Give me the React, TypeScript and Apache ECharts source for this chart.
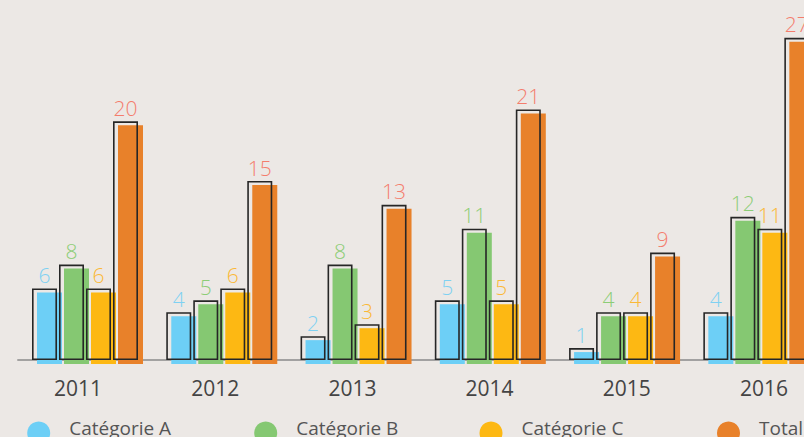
import React, { useEffect, useRef } from "react";
import * as echarts from "echarts";

const years = ["2011", "2012", "2013", "2014", "2015", "2016"];
const seriesNames = ["Catégorie A", "Catégorie B", "Catégorie C", "Total"];
const catA = [6, 4, 2, 5, 1, 4];
const catB = [8, 5, 8, 11, 4, 12];
const catC = [6, 6, 3, 5, 4, 11];
const total = [20, 15, 13, 21, 9, 27];

const barColors = ["#6dcff6", "#85c872", "#fdb813", "#e8812a"];
const labelColors = ["#7fd1f2", "#8ccd76", "#fbb836", "#f47d6d"];
const FONT = "'Open Sans', 'Noto Sans', sans-serif";

export default function App() {
  const ref = useRef<HTMLDivElement>(null);
  useEffect(() => {
    document.body.style.margin = "0";
    const chart = echarts.init(ref.current!, null, { renderer: "svg" });
    const values = [catA, catB, catC, total];
    const gridW = 805.6;
    const gridH = 358;
    const fills = values.map((v, i) => ({
      name: seriesNames[i],
      type: "bar",
      xAxisIndex: 1,
      yAxisIndex: 1,
      data: v,
      barWidth: 25,
      barGap: "8%",
      itemStyle: { color: barColors[i] },
      z: 2,
    }));
    const outlines = values.map((v, i) => ({
      name: "outline-" + i,
      type: "bar",
      xAxisIndex: 0,
      yAxisIndex: 0,
      data: v,
      barWidth: 25,
      barGap: "8%",
      itemStyle: { color: "rgba(0,0,0,0)", borderColor: "#262626", borderWidth: 1.6 },
      label: {
        show: true,
        position: "top",
        distance: 3,
        color: labelColors[i],
        fontSize: 21,
        fontWeight: 300,
        fontFamily: FONT,
      },
      z: 3,
    }));
    const legendLefts = [27.2, 254.2, 479.5, 717];
    chart.setOption({
      animation: false,
      backgroundColor: "#ece8e5",
      grid: [
        { left: 17.87, top: 2, width: gridW, height: gridH },
        { left: 22.87, top: 6, width: gridW, height: gridH },
        { left: 9.4, top: 2, width: 823.2, height: gridH },
      ],
      xAxis: [
        {
          type: "category",
          gridIndex: 0,
          data: years,
          axisLine: { show: true, lineStyle: { color: "#8a8a8a", width: 1.6 } },
          axisTick: { show: false },
          axisLabel: { show: false },
        },
        {
          type: "category",
          gridIndex: 1,
          data: years,
          axisLine: { show: false },
          axisTick: { show: false },
          axisLabel: { show: false },
        },
        {
          type: "category",
          gridIndex: 2,
          data: years,
          axisLine: { show: false },
          axisTick: { show: false },
          axisLabel: { show: true, margin: 17, fontSize: 21, color: "#444", fontFamily: FONT },
        },
      ],
      yAxis: [0, 1, 2].map((g) => ({
        type: "value",
        gridIndex: g,
        min: 0,
        max: 30,
        show: false,
        splitLine: { show: false },
      })),
      legend: seriesNames.map((n, i) => ({
        data: [n],
        left: legendLefts[i],
        top: 418,
        padding: 0,
        icon: "circle",
        itemWidth: 23,
        itemHeight: 23,
        selectedMode: false,
        formatter: "{t|{name}}",
        textStyle: {
          fontSize: 19,
          color: "#555",
          fontFamily: FONT,
          padding: [0, 0, 0, 14],
          rich: {
            t: {
              fontSize: 19,
              color: "#555",
              fontFamily: FONT,
              lineHeight: 19,
              padding: [0, 0, 11, 0],
            },
          },
        },
      })),
      series: [...fills, ...outlines],
    });
    return () => chart.dispose();
  }, []);
  return (
    <div
      style={{ position: "fixed", left: 0, top: 0, width: 804, height: 437, overflow: "hidden" }}
    >
      <div ref={ref} style={{ width: 840, height: 437 }} />
    </div>
  );
}
